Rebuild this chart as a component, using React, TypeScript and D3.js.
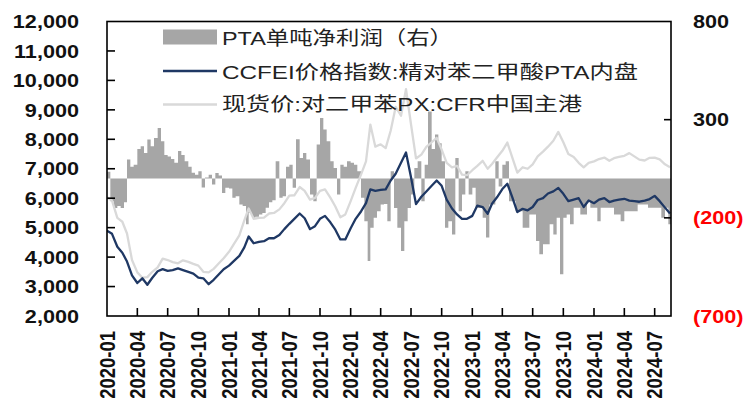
import { useEffect, useRef } from "react";
import * as d3 from "d3";

const W = 744;
const H = 411;

// CCFEI价格指数:精对苯二甲酸PTA内盘 (每月1日、16日)
const ptaIndex = [
  4900, 4790, 4350, 4150, 3850, 3380, 3120, 3280, 3060, 3300,
  3520, 3590, 3530, 3560, 3620, 3560, 3500, 3440, 3300, 3280,
  3080, 3230, 3410, 3590, 3710, 3870, 4040, 4330, 4700, 4470,
  4520, 4540, 4640, 4640, 4750, 4950, 5130, 5300, 5480, 5320,
  4950, 5050, 5300, 5400, 5180, 4930, 4600, 4600, 4980, 5300,
  5550, 5830, 6300, 6250, 6280, 6300, 6600, 6830, 7200, 7550,
  6710, 5800, 6050, 6230, 6420, 6600, 6420, 5950, 5650, 5450,
  5300, 5300, 5400, 5750, 5700, 5470, 5810, 6030, 6310, 6490,
  6030, 5530, 5640, 5590, 5700, 5940, 6000, 6160, 6230, 6350,
  6150, 5900, 5950, 6000, 5700, 5920, 5830, 5950, 6000, 5870,
  5920, 5950, 5980, 5920, 5900, 5880, 5920, 5970, 6080, 5900,
  5680, 5480,
];

// 现货价:对二甲苯PX:CFR中国主港 (每月1日、16日)
const pxSpot = [
  6030, 5920, 5330, 5200, 4800, 3900, 3480, 3300, 3320, 3500,
  3650, 3950, 3900, 3830, 3790, 3890, 3840, 3770, 3710, 3500,
  3480, 3600, 3780, 3960, 4180, 4450, 4740, 5250, 5650, 5300,
  5330, 5340, 5480, 5500, 5620, 5830, 6090, 6100, 6380, 6250,
  5950, 6010, 6250, 6300, 6020, 5720, 5350, 5450, 5900, 6350,
  6800, 7250, 8500, 7750, 7830, 7700, 8290, 9100, 8800, 9700,
  8510, 7350, 7480, 7740, 7900, 8050, 7650, 7200, 7050, 7100,
  6800, 6780, 6950, 7100, 7270, 7000, 7160, 7380, 7610, 7890,
  7380, 6870, 7050, 7000, 7150, 7420, 7580, 7750, 7950, 8250,
  7900, 7500, 7400, 7200, 7050, 7200, 7250, 7330, 7380, 7270,
  7360, 7400, 7440, 7530, 7420, 7310, 7280, 7370, 7380, 7320,
  7150, 7050,
];

// PTA单吨净利润 (每月1、11、21日)
const ptaProfit = [
  35, -115, -150, -140, -150, -120, 97, 60, 70, 150,
  165, 130, 199, 165, 206, 258, 190, 120, 113, 100,
  80, 140, 120, 88, 60, 30, 20, 37, -45, 5,
  20, -30, 28, 15, -73, -47, -50, -98, -90, -132,
  -140, -233, -174, -200, -195, -183, -175, -149, -120, -110,
  88, -98, -90, 60, 71, -47, 200, 105, 130, 97,
  -81, -115, 173, 308, 250, 190, 88, 54, -81, 71,
  60, 88, 80, 71, 37, -98, -217, -420, -250, -200,
  -166, -132, -130, -217, 37, -150, -250, -369, -217, -150,
  -81, 54, 88, -115, 70, 342, 150, 224, 180, 88,
  -250, -217, -285, 105, -166, -81, 37, -81, -47, -150,
  -150, -200, -300, -132, -132, 88, -40, 71, 88, -115,
  -115, -166, -166, -250, -250, -183, -183, -318, -386, -335,
  -335, -233, -285, -200, -487, -200, -183, -233, -149, -149,
  -183, -183, -115, -149, -149, -217, -149, -149, -149, -149,
  -183, -183, -217, -166, -166, -166, -166, -132, -132, -132,
  -149, -149, -149, -149, -200, -149, -233,
];

const leftTicks = [2000, 3000, 4000, 5000, 6000, 7000, 8000, 9000, 10000, 11000, 12000];
const rightTicks = [800, 300, -200, -700];
const xTickLabels = [
  "2020-01", "2020-04", "2020-07", "2020-10",
  "2021-01", "2021-04", "2021-07", "2021-10",
  "2022-01", "2022-04", "2022-07", "2022-10",
  "2023-01", "2023-04", "2023-07", "2023-10",
  "2024-01", "2024-04", "2024-07",
];
const legendLabels = [
  "PTA单吨净利润（右）",
  "CCFEI价格指数:精对苯二甲酸PTA内盘",
  "现货价:对二甲苯PX:CFR中国主港",
];

const NAVY = "#1F3864";
const LIGHT = "#D9D9D9";
const AREA = "#A6A6A6";
const STRETCH = 1.17;

export default function App() {
  const ref = useRef<SVGSVGElement | null>(null);

  useEffect(() => {
    if (!ref.current) return;
    const svg = d3.select(ref.current);
    svg.selectAll("*").remove();

    const left = 107;
    const right = 671;
    const top = 21.5;
    const bottom = 316;
    const endDate = new Date(2024, 7, 19);

    const parse = d3.timeParse("%Y-%m");
    const x = d3
      .scaleTime()
      .domain([new Date(2020, 0, 1), endDate])
      .range([left, right]);
    const yL = d3.scaleLinear().domain([2000, 12000]).range([bottom, top]);
    const yR = d3.scaleLinear().domain([-700, 800]).range([bottom, top]);

    const lineDates = ptaIndex.map((_, i) => new Date(2020, Math.floor(i / 2), i % 2 ? 16 : 1));
    const profitPts = ptaProfit.map((v, i) => ({
      date: new Date(2020, Math.floor(i / 3), 1 + (i % 3) * 10),
      v,
    }));
    // close the last step at the end of the axis
    profitPts.push({ date: endDate, v: ptaProfit[ptaProfit.length - 1] });

    svg.append("rect").attr("width", W).attr("height", H).attr("fill", "#fff");

    svg.append("clipPath").attr("id", "plot-clip")
      .append("rect")
      .attr("x", left).attr("y", top)
      .attr("width", right - left).attr("height", bottom - top);

    const plot = svg.append("g").attr("clip-path", "url(#plot-clip)");

    /* ---------------- PROFIT AREA (right axis) ---------------- */

    const area = d3.area<{ date: Date; v: number }>()
      .x(d => x(d.date))
      .y0(yR(0))
      .y1(d => yR(d.v))
      .curve(d3.curveStepAfter);

    plot.append("path")
      .datum(profitPts)
      .attr("fill", AREA)
      .attr("d", area);

    /* ---------------- LINES (left axis) ---------------- */

    const line = d3.line<number>()
      .x((_, i) => x(lineDates[i]))
      .y(d => yL(d));

    plot.append("path")
      .datum(pxSpot)
      .attr("fill", "none")
      .attr("stroke", LIGHT)
      .attr("stroke-width", 2.3)
      .attr("stroke-linejoin", "round")
      .attr("d", line);

    plot.append("path")
      .datum(ptaIndex)
      .attr("fill", "none")
      .attr("stroke", NAVY)
      .attr("stroke-width", 2.3)
      .attr("stroke-linejoin", "round")
      .attr("d", line);

    /* ---------------- FRAME + TICKS ---------------- */

    svg.append("rect")
      .attr("x", left).attr("y", top)
      .attr("width", right - left).attr("height", bottom - top)
      .attr("fill", "none")
      .attr("stroke", "#000")
      .attr("stroke-width", 1.6);

    svg.selectAll(".lt")
      .data(leftTicks.slice(1, -1))
      .enter()
      .append("line")
      .attr("x1", left).attr("x2", left + 8)
      .attr("y1", d => yL(d)).attr("y2", d => yL(d))
      .attr("stroke", "#000").attr("stroke-width", 1.6);

    svg.selectAll(".rt")
      .data(rightTicks.slice(1, -1))
      .enter()
      .append("line")
      .attr("x1", right - 7).attr("x2", right)
      .attr("y1", d => yR(d)).attr("y2", d => yR(d))
      .attr("stroke", "#000").attr("stroke-width", 1.6);

    svg.selectAll(".xt")
      .data(xTickLabels.slice(1))
      .enter()
      .append("line")
      .attr("x1", d => x(parse(d)!)).attr("x2", d => x(parse(d)!))
      .attr("y1", bottom - 8).attr("y2", bottom)
      .attr("stroke", "#000").attr("stroke-width", 1.6);

    /* ---------------- AXIS LABELS ---------------- */

    const font = "'Liberation Sans', Arial, sans-serif";

    svg.selectAll(".ll")
      .data(leftTicks)
      .enter()
      .append("text")
      .attr("transform", d => `translate(79,${yL(d)}) scale(${STRETCH},1)`)
      .attr("text-anchor", "end")
      .attr("dy", "0.36em")
      .attr("font-family", font)
      .attr("font-weight", "bold")
      .attr("font-size", 18.5)
      .attr("fill", "#111")
      .text(d => d3.format(",")(d));

    svg.selectAll(".rl")
      .data(rightTicks)
      .enter()
      .append("text")
      .attr("transform", d => `translate(693,${yR(d)}) scale(${STRETCH},1)`)
      .attr("dy", "0.36em")
      .attr("font-family", font)
      .attr("font-weight", "bold")
      .attr("font-size", 18.5)
      .attr("fill", d => (d < 0 ? "#FF0000" : "#111"))
      .text(d => (d < 0 ? `(${Math.abs(d)})` : `${d}`));

    svg.selectAll(".xl")
      .data(xTickLabels)
      .enter()
      .append("text")
      .attr("transform", d => `translate(${x(parse(d)!)},331) scale(${STRETCH},1) rotate(-90)`)
      .attr("text-anchor", "end")
      .attr("dy", "0.36em")
      .attr("font-family", font)
      .attr("font-weight", "bold")
      .attr("font-size", 18.5)
      .attr("fill", "#111")
      .text(d => d);

    /* ---------------- LEGEND ---------------- */

    const legend = svg.append("g");
    legend.append("rect")
      .attr("x", 163).attr("y", 29.5)
      .attr("width", 54).attr("height", 15)
      .attr("fill", AREA);
    legend.append("line")
      .attr("x1", 163).attr("x2", 217)
      .attr("y1", 71).attr("y2", 71)
      .attr("stroke", NAVY).attr("stroke-width", 2.3);
    legend.append("line")
      .attr("x1", 163).attr("x2", 217)
      .attr("y1", 104.5).attr("y2", 104.5)
      .attr("stroke", LIGHT).attr("stroke-width", 2.3);

    const legendY = [44.5, 79, 110.5];
    const legendW = [231, 416, 360];
    legend.selectAll("text")
      .data(legendLabels)
      .enter()
      .append("text")
      .attr("x", 222)
      .attr("y", (_, i) => legendY[i])
      .attr("textLength", (_, i) => legendW[i])
      .attr("lengthAdjust", "spacingAndGlyphs")
      .attr("font-family", "'Liberation Sans', 'Noto Sans CJK SC', sans-serif")
      .attr("font-size", 19)
      .attr("fill", "#222")
      .text(d => d);
  }, []);

  return (
    <svg
      ref={ref}
      width={W}
      height={H}
      style={{ position: "absolute", left: 0, top: 0 }}
    />
  );
}
